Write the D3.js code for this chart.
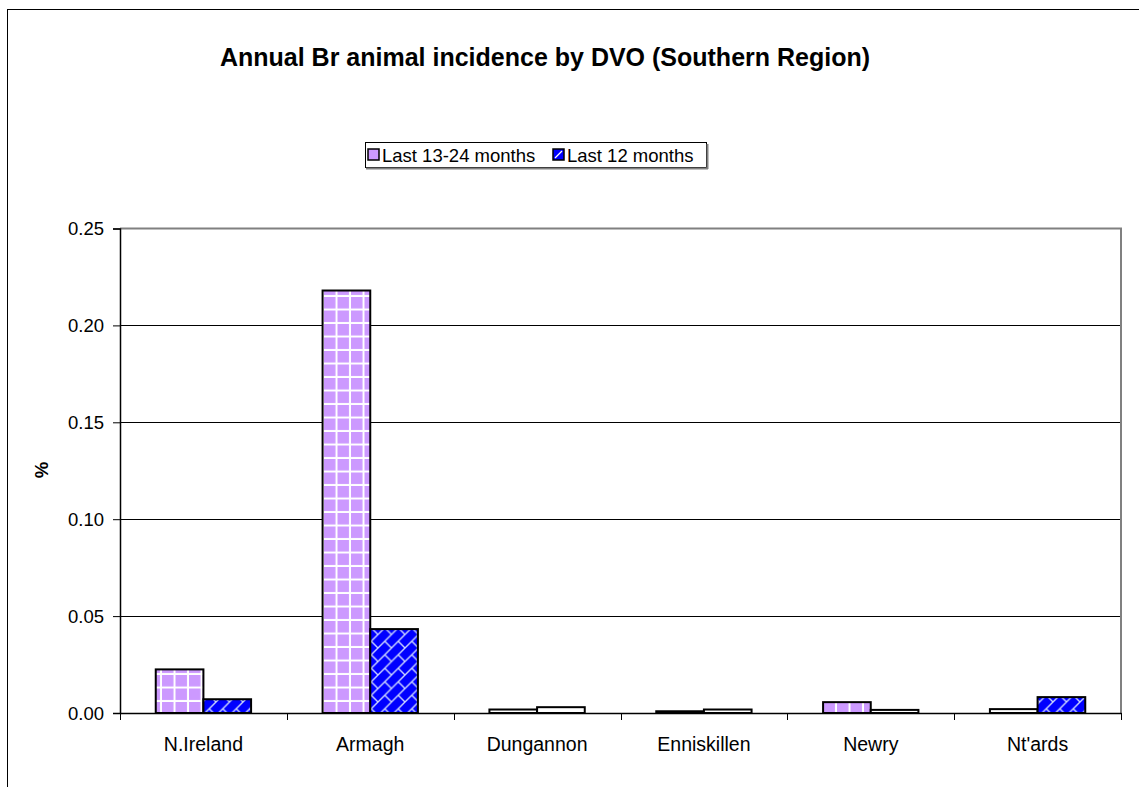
<!DOCTYPE html>
<html>
<head>
<meta charset="utf-8">
<script src="https://cdn.jsdelivr.net/npm/d3@7"></script>
<style>
html,body{margin:0;padding:0;background:#fff;}
svg{display:block;font-family:"Liberation Sans",Arial,sans-serif;}
</style>
</head>
<body>
<svg id="chart" width="1139" height="787"></svg>
<script>
const categories = ["N.Ireland","Armagh","Dungannon","Enniskillen","Newry","Nt'ards"];
const seriesNames = ["Last 13-24 months","Last 12 months"];
const prev = [0.0225,0.218,0.0018,0.0009,0.0056,0.0020];
const last = [0.0071,0.0433,0.0030,0.0018,0.0016,0.0082];
const yTicks = [0,0.05,0.10,0.15,0.20,0.25];
const title = "Annual Br animal incidence by DVO (Southern Region)";
const yLabel = "%";

const svg = d3.select("#chart");
const W = 1139, H = 787;
const plot = {left:120, right:1121, top:228.5, bottom:713};
const FONT = "Liberation Sans, Arial, sans-serif";
const fs = 18.5;

// patterns
const defs = svg.append("defs");
const gs = 13.5;
const pg = defs.append("pattern").attr("id","grid").attr("patternUnits","userSpaceOnUse")
  .attr("width",gs).attr("height",gs);
pg.append("rect").attr("width",gs).attr("height",gs).attr("fill","#CC99FF");
pg.append("rect").attr("x",gs-2).attr("y",0).attr("width",2).attr("height",gs).attr("fill","#fff");
pg.append("rect").attr("x",0).attr("y",gs-2).attr("width",gs).attr("height",2).attr("fill","#fff");

const bs = 13.5;
const pb = defs.append("pattern").attr("id","brick").attr("patternUnits","userSpaceOnUse")
  .attr("width",bs).attr("height",bs);
pb.append("rect").attr("width",bs).attr("height",bs).attr("fill","#0000FF");
pb.append("path").attr("d",`M0,${bs} L${bs},0 M${bs/2},${bs/2} L${bs},${bs} M-1,1 L1,-1 M${bs-1},${bs+1} L${bs+1},${bs-1}`)
  .attr("stroke","#ccd6ff").attr("stroke-width",1.4).attr("fill","none");

const fills = ["url(#grid)","url(#brick)"];

// outer frame
svg.append("rect").attr("x",7.5).attr("y",9.5).attr("width",W+10).attr("height",H+10)
  .attr("fill","none").attr("stroke","#000").attr("stroke-width",1);

const x = d3.scaleBand().domain(categories).range([plot.left,plot.right]).paddingInner(0).paddingOuter(0);
const y = d3.scaleLinear().domain([0,0.25]).range([plot.bottom,plot.top]);
const bw = x.bandwidth()/3.5;
const xs = d3.scaleBand().domain(seriesNames).range([0.75*bw, 2.75*bw]).padding(0);

// gridlines
svg.append("g").selectAll("line").data(yTicks.filter(d=>d>0 && d<0.25)).join("line")
  .attr("x1",plot.left).attr("x2",plot.right)
  .attr("y1",d=>Math.round(y(d))+0.5).attr("y2",d=>Math.round(y(d))+0.5)
  .attr("stroke","#000").attr("stroke-width",1);

// plot border top/right gray
svg.append("path").attr("d",`M${plot.left},${plot.top} L${plot.right},${plot.top} L${plot.right},${plot.bottom}`)
  .attr("fill","none").attr("stroke","#808080").attr("stroke-width",2);

// bars
const data = [prev,last];
data.forEach((vals,si)=>{
  svg.append("g").selectAll("rect").data(vals).join("rect")
    .attr("x",(d,i)=>x(categories[i])+xs(seriesNames[si]))
    .attr("y",d=>y(d))
    .attr("width",xs.bandwidth())
    .attr("height",d=>plot.bottom-y(d))
    .attr("fill",(d)=> (plot.bottom-y(d))<7 ? "#fff" : fills[si])
    .attr("stroke","#000").attr("stroke-width",2);
});

// y axis
const yAxis = d3.axisLeft(y).tickValues(yTicks).tickFormat(d3.format(".2f")).tickSizeOuter(0).tickSize(7).tickPadding(9);
const gy = svg.append("g").attr("transform",`translate(${plot.left},0)`).call(yAxis);
gy.attr("font-size",fs).attr("font-family",FONT);
gy.select(".domain").attr("stroke","#000").attr("stroke-width",1.5);
gy.selectAll(".tick line").attr("stroke","#000");
gy.selectAll("text").attr("font-size",fs).attr("fill","#000").attr("dy","0.34em");

// x axis
const xAxis = d3.axisBottom(x).tickSize(0).tickPadding(24);
const gx = svg.append("g").attr("transform",`translate(0,${plot.bottom})`).call(xAxis);
gx.attr("font-size",fs).attr("font-family",FONT);
gx.select(".domain").attr("stroke","#000").attr("stroke-width",1.5);
gx.selectAll("text").attr("font-size",19.5).attr("fill","#000");
// category separator ticks
const bounds = categories.map(c=>x(c)).concat([plot.right]);
svg.append("g").selectAll("line").data(bounds).join("line")
  .attr("x1",d=>Math.round(d)+0.5).attr("x2",d=>Math.round(d)+0.5)
  .attr("y1",plot.bottom).attr("y2",plot.bottom+7)
  .attr("stroke","#000").attr("stroke-width",1);

// title
svg.append("text").attr("x",545).attr("y",66).attr("text-anchor","middle")
  .attr("font-size",25).attr("font-weight","bold").text(title);

// y label
svg.append("text").attr("transform","translate(48,470) rotate(-90)").attr("text-anchor","middle")
  .attr("font-size",fs).attr("font-weight","bold").text(yLabel);

// legend
const lg = svg.append("g");
lg.append("rect").attr("x",365.5).attr("y",142.5).attr("width",341).attr("height",25)
  .attr("fill","#fff").attr("stroke","#000").attr("stroke-width",1);
lg.append("line").attr("x1",366).attr("x2",708).attr("y1",168.5).attr("y2",168.5).attr("stroke","#808080").attr("stroke-width",2);
lg.append("line").attr("x1",707.5).attr("x2",707.5).attr("y1",144).attr("y2",169).attr("stroke","#808080").attr("stroke-width",2);
const legX = [368, 553];
seriesNames.forEach((n,i)=>{
  lg.append("rect").attr("x",legX[i]).attr("y",149).attr("width",11).attr("height",11)
    .attr("fill",i===0?"#CC99FF":"#0000FF").attr("stroke","#000").attr("stroke-width",1.5);
  if(i===1){
    lg.append("line").attr("x1",legX[i]+2).attr("y1",158).attr("x2",legX[i]+9).attr("y2",151)
      .attr("stroke","#fff").attr("stroke-width",1.2);
  }
  lg.append("text").attr("x",legX[i]+14).attr("y",161.5).attr("font-size",fs).text(n);
});
</script>
</body>
</html>
